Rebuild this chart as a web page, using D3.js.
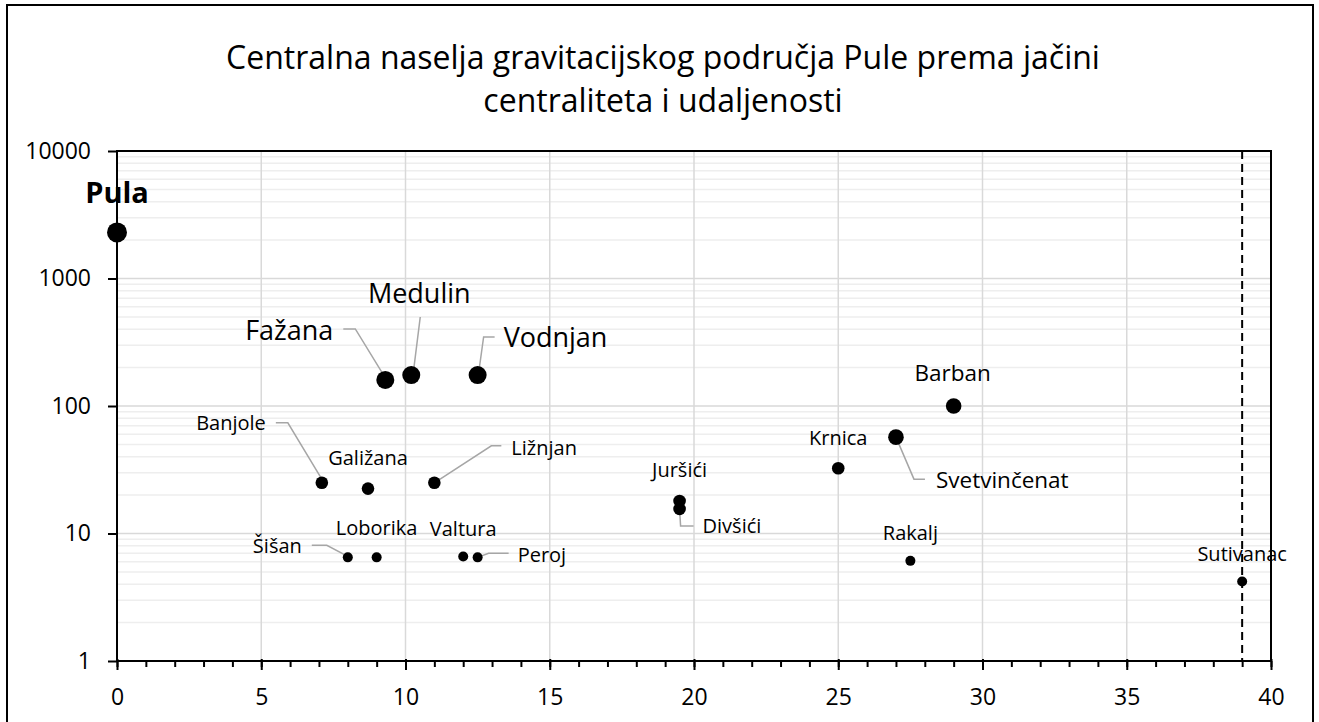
<!DOCTYPE html>
<html>
<head>
    <meta charset="utf-8">
    <title>Centralna naselja gravitacijskog područja Pule</title>
    <script src="https://d3js.org/d3.v7.min.js"></script>
    <style>
        body { margin: 0; background: #fff; }
        text { font-family: "Open Sans", "Noto Sans", sans-serif; fill: #000; }
    </style>
</head>
<body>
    <div id="chart"></div>

    <script>
        // data
        var names = ["Pula", "Fažana", "Medulin", "Vodnjan", "Banjole", "Galižana", "Ližnjan",
                     "Šišan", "Loborika", "Valtura", "Peroj", "Juršići", "Divšići", "Krnica",
                     "Svetvinčenat", "Barban", "Rakalj", "Sutivanac"];
        var distance = [0, 9.3, 10.2, 12.5, 7.1, 8.7, 11, 8, 9, 12, 12.5, 19.5, 19.5, 25, 27, 29, 27.5, 39];
        var centrality = [2300, 160, 175, 175, 25, 22.5, 25, 6.5, 6.5, 6.6, 6.5, 18, 15.6, 32.5, 57, 100, 6.1, 4.2];
        // centrality class (1 = strongest) drives marker and label size
        var rank = [1, 2, 2, 2, 4, 4, 4, 5, 5, 5, 5, 4, 4, 4, 3, 3, 5, 5];

        var xTicks = [0, 5, 10, 15, 20, 25, 30, 35, 40];
        var yTicks = [1, 10, 100, 1000, 10000];
        var titleLines = ["Centralna naselja gravitacijskog područja Pule prema jačini",
                          "centraliteta i udaljenosti"];

        // style per class
        var radius = {1: 10, 2: 9, 3: 7.8, 4: 6.3, 5: 5};
        var fontSize = {1: 29, 2: 27, 3: 22.5, 4: 20, 5: 20};

        // label placement relative to the point (dx, dy, anchor) and leader lines
        var labelLayout = {
            "Pula":         {dx: 0,   dy: -29, anchor: "middle"},
            "Fažana":       {dx: -52, dy: -40, anchor: "end",    leader: [[-42, -51], [-30, -51], [0, -2]]},
            "Medulin":      {dx: 8,   dy: -72, anchor: "middle", leader: [[9, -58], [2, -2]]},
            "Vodnjan":      {dx: 26,  dy: -28, anchor: "start",  leader: [[17, -38], [6, -38], [1, -2]]},
            "Banjole":      {dx: -56, dy: -53, anchor: "end",    leader: [[-46, -60], [-34, -60], [1, -2]]},
            "Galižana":     {dx: 0,   dy: -24, anchor: "middle"},
            "Ližnjan":      {dx: 77,  dy: -28, anchor: "start",  leader: [[67, -37], [57, -37], [0, 0]]},
            "Šišan":        {dx: -46, dy: -4,  anchor: "end",    leader: [[-36, -12], [-21, -12], [0, -1]]},
            "Loborika":     {dx: 0,   dy: -22, anchor: "middle"},
            "Valtura":      {dx: 0,   dy: -21, anchor: "middle"},
            "Peroj":        {dx: 40,  dy: 5,   anchor: "start",  leader: [[31, -4], [11, -4], [0, 0]]},
            "Juršići":      {dx: 0,   dy: -24, anchor: "middle"},
            "Divšići":      {dx: 23,  dy: 24,  anchor: "start",  leader: [[0, 0], [1, 17], [14, 17]]},
            "Krnica":       {dx: 0,   dy: -23, anchor: "middle"},
            "Svetvinčenat": {dx: 40,  dy: 51,  anchor: "start",  leader: [[0, 0], [18, 42], [29, 42]]},
            "Barban":       {dx: -1,  dy: -25, anchor: "middle"},
            "Rakalj":       {dx: 0,   dy: -21, anchor: "middle"},
            "Sutivanac":    {dx: 0,   dy: -21, anchor: "middle"}
        };

        var W = 1319, H = 722;
        var plot = {left: 117, right: 1271, top: 151, bottom: 661};

        var data = names.map(function(n, i) {
            return {name: n, x: distance[i], y: centrality[i], rank: rank[i]};
        });

        var svg = d3.select("#chart")
            .append("svg")
            .attr("width", W)
            .attr("height", H);

        // outer chart frame
        svg.append("rect")
            .attr("x", 7).attr("y", 5)
            .attr("width", 1306).attr("height", 730)
            .attr("fill", "none")
            .attr("stroke", "#000")
            .attr("stroke-width", 2);

        // title
        svg.append("g").selectAll("text")
            .data(titleLines)
            .enter()
            .append("text")
            .attr("x", 663)
            .attr("y", function(d, i) { return 69 + i * 43; })
            .attr("text-anchor", "middle")
            .style("font-size", "32px")
            .text(function(d) { return d; });

        var x = d3.scaleLinear().domain([0, 40]).range([plot.left, plot.right]);
        var y = d3.scaleLog().domain([1, 10000]).range([plot.bottom, plot.top]);

        // minor horizontal grid (2..9 of each decade)
        var minor = [];
        yTicks.slice(0, -1).forEach(function(d) {
            for (var k = 2; k <= 9; k++) minor.push(d * k);
        });
        svg.append("g").selectAll("line")
            .data(minor)
            .enter()
            .append("line")
            .attr("x1", plot.left).attr("x2", plot.right)
            .attr("y1", function(d) { return y(d); })
            .attr("y2", function(d) { return y(d); })
            .attr("stroke", "#eeeeee")
            .attr("stroke-width", 1.5);

        // major grid
        svg.append("g").selectAll("line")
            .data(yTicks.slice(1, -1))
            .enter()
            .append("line")
            .attr("x1", plot.left).attr("x2", plot.right)
            .attr("y1", function(d) { return y(d); })
            .attr("y2", function(d) { return y(d); })
            .attr("stroke", "#d9d9d9")
            .attr("stroke-width", 1.5);

        svg.append("g").selectAll("line")
            .data(xTicks.slice(1, -1))
            .enter()
            .append("line")
            .attr("y1", plot.top).attr("y2", plot.bottom)
            .attr("x1", function(d) { return x(d); })
            .attr("x2", function(d) { return x(d); })
            .attr("stroke", "#d9d9d9")
            .attr("stroke-width", 1.5);

        // dashed line at the furthest settlement
        svg.append("line")
            .attr("x1", x(39)).attr("x2", x(39))
            .attr("y1", plot.top).attr("y2", plot.bottom)
            .attr("stroke", "#000")
            .attr("stroke-width", 2)
            .attr("stroke-dasharray", "8,5");

        // plot frame
        svg.append("rect")
            .attr("x", plot.left).attr("y", plot.top)
            .attr("width", plot.right - plot.left)
            .attr("height", plot.bottom - plot.top)
            .attr("fill", "none")
            .attr("stroke", "#000")
            .attr("stroke-width", 2);

        // axes
        var xMinor = svg.append("g")
            .attr("transform", "translate(0," + plot.bottom + ")")
            .call(d3.axisBottom(x).ticks(40).tickSize(6).tickFormat(""));
        xMinor.select(".domain").remove();
        xMinor.selectAll("line").attr("stroke-width", 2);

        var xAxis = svg.append("g")
            .attr("transform", "translate(0," + plot.bottom + ")")
            .call(d3.axisBottom(x).tickValues(xTicks).tickSize(9));
        xAxis.select(".domain").remove();
        xAxis.selectAll("line").attr("stroke-width", 2).attr("y1", -2);
        xAxis.selectAll("text")
            .attr("y", 44).attr("dy", null)
            .style("font-size", "23px")
            .style("font-family", "'Open Sans', sans-serif");

        var yAxis = svg.append("g")
            .attr("transform", "translate(" + plot.left + ",0)")
            .call(d3.axisLeft(y).tickValues(yTicks).tickSize(9).tickPadding(17).tickFormat(d3.format("d")));
        yAxis.select(".domain").remove();
        yAxis.selectAll("line").attr("stroke-width", 2);
        yAxis.selectAll("text")
            .style("font-size", "23px")
            .style("font-family", "'Open Sans', sans-serif");

        // leader lines
        svg.append("g").selectAll("path")
            .data(data.filter(function(d) { return labelLayout[d.name].leader; }))
            .enter()
            .append("path")
            .attr("d", function(d) {
                var px = x(d.x), py = y(d.y);
                return d3.line()(labelLayout[d.name].leader.map(function(p) {
                    return [px + p[0], py + p[1]];
                }));
            })
            .attr("fill", "none")
            .attr("stroke", "#a6a6a6")
            .attr("stroke-width", 1.5);

        // points
        svg.append("g").selectAll("circle")
            .data(data)
            .enter()
            .append("circle")
            .attr("cx", function(d) { return x(d.x); })
            .attr("cy", function(d) { return y(d.y); })
            .attr("r", function(d) { return radius[d.rank]; })
            .attr("fill", "#000");

        // labels
        svg.append("g").selectAll("text")
            .data(data)
            .enter()
            .append("text")
            .attr("x", function(d) { return x(d.x) + labelLayout[d.name].dx; })
            .attr("y", function(d) { return y(d.y) + labelLayout[d.name].dy; })
            .attr("text-anchor", function(d) { return labelLayout[d.name].anchor; })
            .style("font-size", function(d) { return fontSize[d.rank] + "px"; })
            .style("font-weight", function(d) { return d.rank === 1 ? "bold" : "normal"; })
            .text(function(d) { return d.name; });
    </script>
</body>
</html>
